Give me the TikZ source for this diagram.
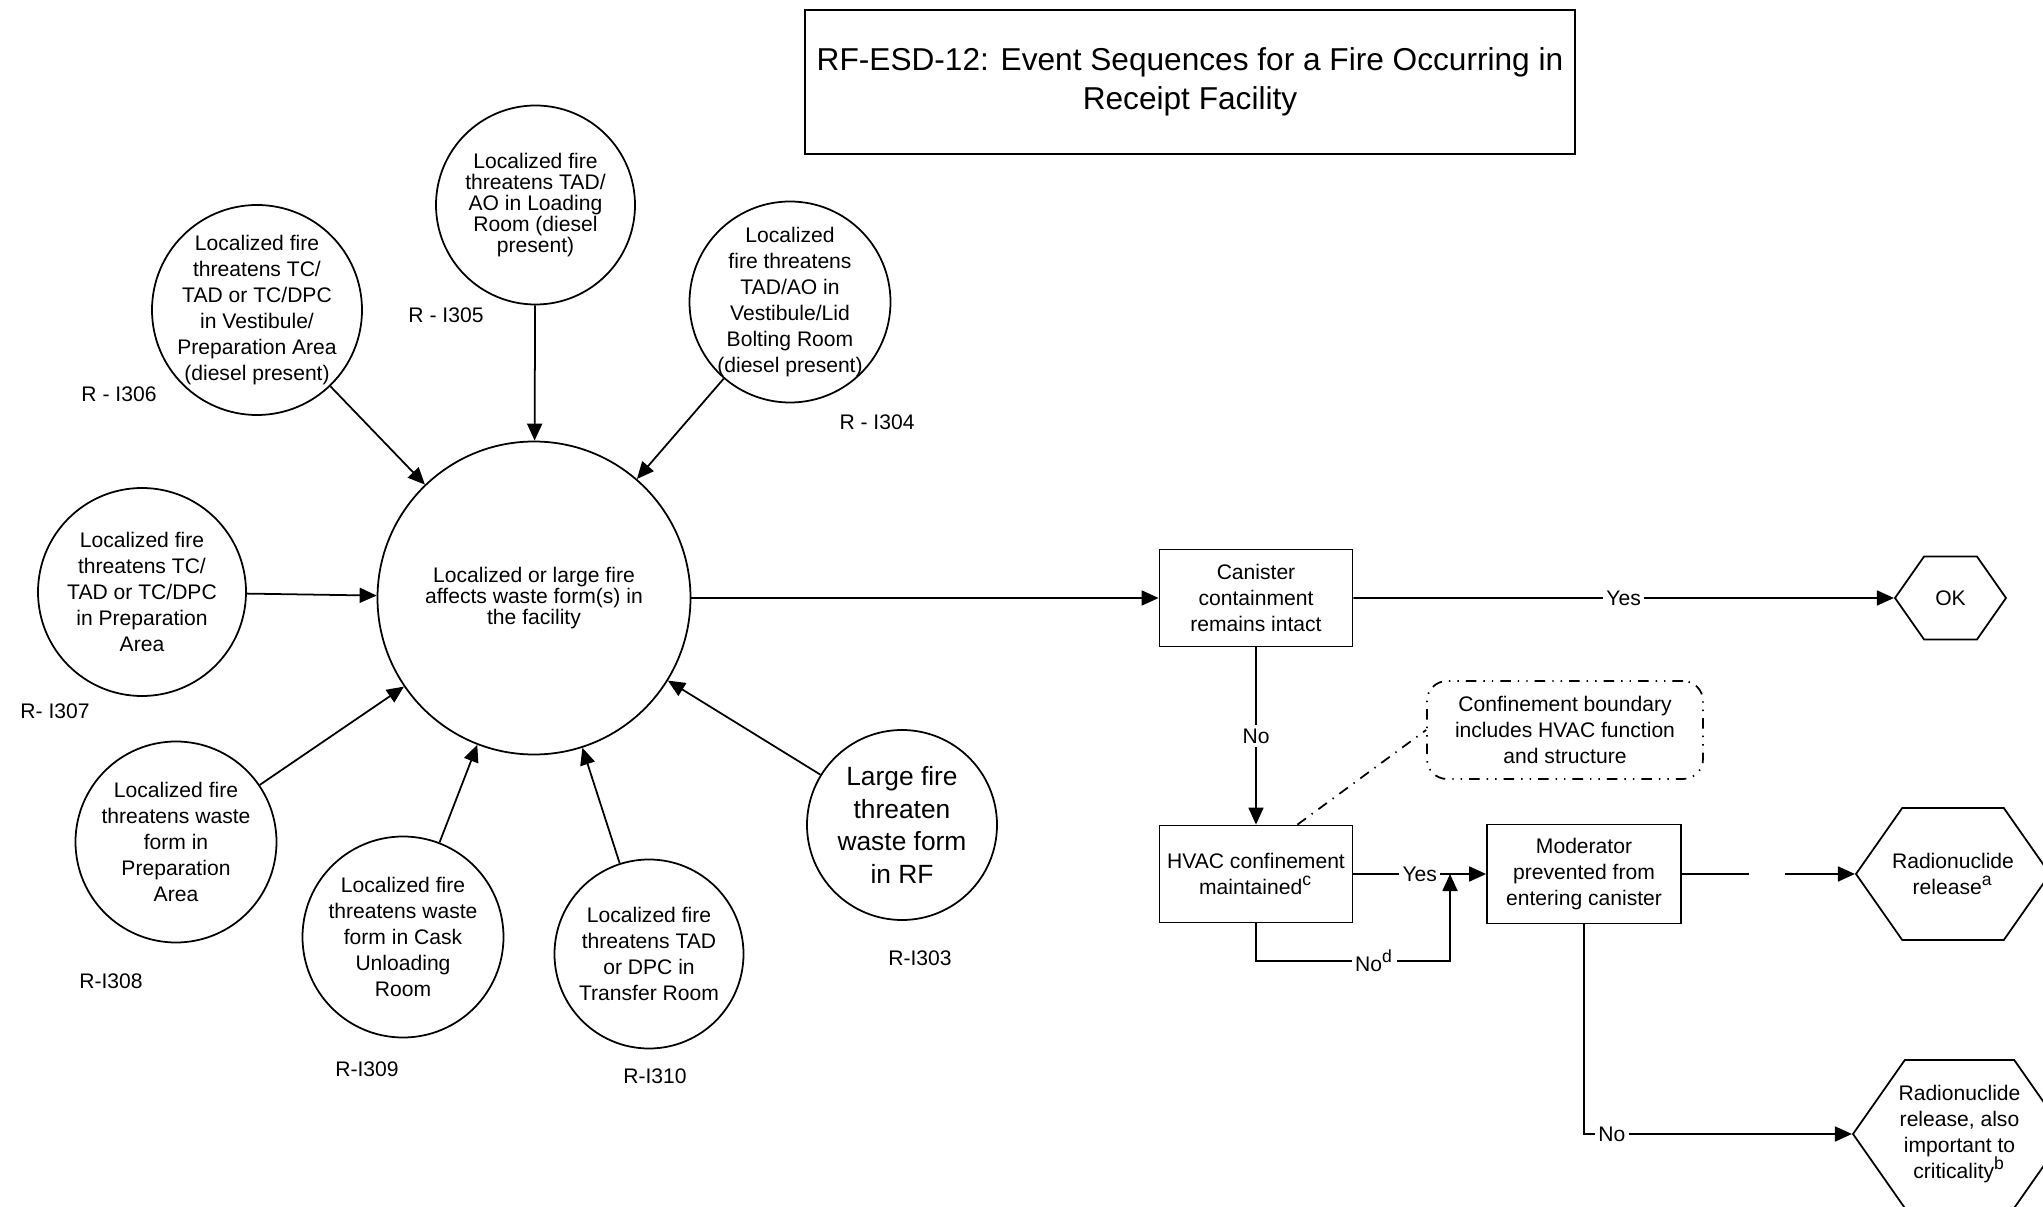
\documentclass[tikz,border=0pt]{standalone}
\usepackage{fontspec}
\setmainfont{Liberation Sans}
\usepackage{tikz}
\usetikzlibrary{arrows.meta, shapes.symbols}

\newcommand{\evfont}{\fontsize{6}{7.4}\selectfont}
\newcommand{\evtight}{\fontsize{6}{6}\selectfont}

\begin{document}
\begin{tikzpicture}[y=-1cm,
    >={Triangle[length=1.7mm, width=1.5mm]},
    every node/.style={font=\evfont},
    initiator/.style={circle, draw, line width=0.5pt, minimum size=#1, inner sep=0pt},
    evtext/.style={align=center, inner sep=0pt},
    stepbox/.style={rectangle, draw, line width=0.5pt, minimum width=1.93cm, minimum height=0.97cm, align=center, inner sep=1pt},
    endstate/.style={signal, signal to=west and east, signal pointer angle=110, draw, line width=0.5pt, align=center, inner ysep=0pt, inner xsep=-0.15cm},
    flow/.style={->, line width=0.5pt},
    branch/.style={fill=white, inner sep=1pt}]
    \useasboundingbox (0,0) rectangle (20.43,12.07);

    % Title
    \node[draw, line width=0.5pt, minimum width=7.68cm, minimum height=1.44cm, align=center,
          font=\fontsize{9}{11.1}\selectfont] (title) at (11.90,0.82)
          {RF-ESD-12: Event Sequences for a Fire Occurring in\\Receipt Facility};

    % Central event
    \node[initiator=3.13cm, align=center, font=\evtight] (fire) at (5.34,5.98)
          {Localized or large fire\\affects waste form(s) in\\the facility};

    % Initiating events
    \node[initiator=2.10cm, label={[evtext]center:Localized fire\\threatens TC/\\TAD or TC/DPC\\in Vestibule/\\Preparation Area\\(diesel present)}] (s306) at (2.57,3.10) {};
    \node[initiator=1.99cm, label={[evtext, font=\evtight]center:Localized fire\\threatens TAD/\\AO in Loading\\Room (diesel\\present)}] (s305) at (5.355,2.05) {};
    \node[initiator=2.01cm, label={[evtext]center:Localized\\fire threatens\\TAD/AO in\\Vestibule/Lid\\Bolting Room\\(diesel present)}] (s304) at (7.90,3.02) {};
    \node[initiator=2.08cm, label={[evtext]center:Localized fire\\threatens TC/\\TAD or TC/DPC\\in Preparation\\Area}] (s307) at (1.42,5.92) {};
    \node[initiator=2.01cm, label={[evtext]center:Localized fire\\threatens waste\\form in\\Preparation\\Area}] (s308) at (1.76,8.42) {};
    \node[initiator=2.01cm, label={[evtext]center:Localized fire\\threatens waste\\form in Cask\\Unloading\\Room}] (s309) at (4.03,9.37) {};
    \node[initiator=1.89cm, label={[evtext]center:Localized fire\\threatens TAD\\or DPC in\\Transfer Room}] (s310) at (6.49,9.54) {};
    \node[initiator=1.90cm, label={[evtext, font=\fontsize{7.5}{9.3}\selectfont]center:Large fire\\threaten\\waste form\\in RF}] (s303) at (9.02,8.25) {};

    % Initiator tags
    \node (lab306) at (1.19,3.94) {R - I306};
    \node (lab305) at (4.46,3.15) {R - I305};
    \node (lab304) at (8.77,4.22) {R - I304};
    \node (lab307) at (0.55,7.11) {R- I307};
    \node (lab308) at (1.11,9.81) {R-I308};
    \node (lab309) at (3.67,10.69) {R-I309};
    \node (lab310) at (6.55,10.76) {R-I310};
    \node (lab303) at (9.20,9.58) {R-I303};

    \foreach \s in {s306,s305,s304,s307,s308,s309,s310,s303}
      \draw[flow] (\s) -- (fire);

    % Pivotal events
    \node[stepbox] (canister) at (12.56,5.98) {Canister\\containment\\remains intact};
    \node[stepbox] (hvac) at (12.56,8.74) {HVAC confinement\\maintained\textsuperscript{c}};
    \node[stepbox, minimum width=1.94cm, minimum height=0.99cm] (mod) at (15.84,8.74)
          {Moderator\\prevented from\\entering canister};
    \node[draw, dash dot dot, rounded corners=2mm, line width=0.5pt, minimum width=2.76cm,
          minimum height=0.98cm, align=center] (note) at (15.65,7.30)
          {Confinement boundary\\includes HVAC function\\and structure};
    \coordinate (merge) at (14.50,8.74);

    % End states
    \node[endstate, minimum width=1.11cm, minimum height=0.83cm] (ok) at (19.505,5.98) {OK};
    \node[endstate, minimum width=1.94cm, minimum height=1.32cm] (rel) at (19.53,8.74)
          {Radionuclide\\release\textsuperscript{a}};
    \node[endstate, minimum width=2.13cm, minimum height=1.48cm] (crit) at (19.595,11.34)
          {Radionuclide\\release, also\\important to\\criticality\textsuperscript{b}};

    % Branches
    \draw[flow] (fire) -- (canister);
    \draw[flow] (canister) -- node[branch] {Yes} (ok);
    \draw[flow] (canister) -- node[branch] {No} (hvac);
    \draw[flow] (hvac) -- node[branch] {Yes} (mod);
    \draw[flow] (hvac.south) -- ++(0,0.375) -| node[branch, pos=0.305] {No\textsuperscript{d}} (merge);
    \draw[line width=0.5pt] (mod.east) -- ++(0.67,0);
    \draw[line width=0.5pt, <-] (rel.west) -- ++(-0.70,0);
    \draw[flow] (mod.south) |- node[branch, pos=0.552] {No} (crit.west);
    \draw[dash dot, line width=0.5pt] (hvac.50) -- (note.west);
\end{tikzpicture}
\end{document}
